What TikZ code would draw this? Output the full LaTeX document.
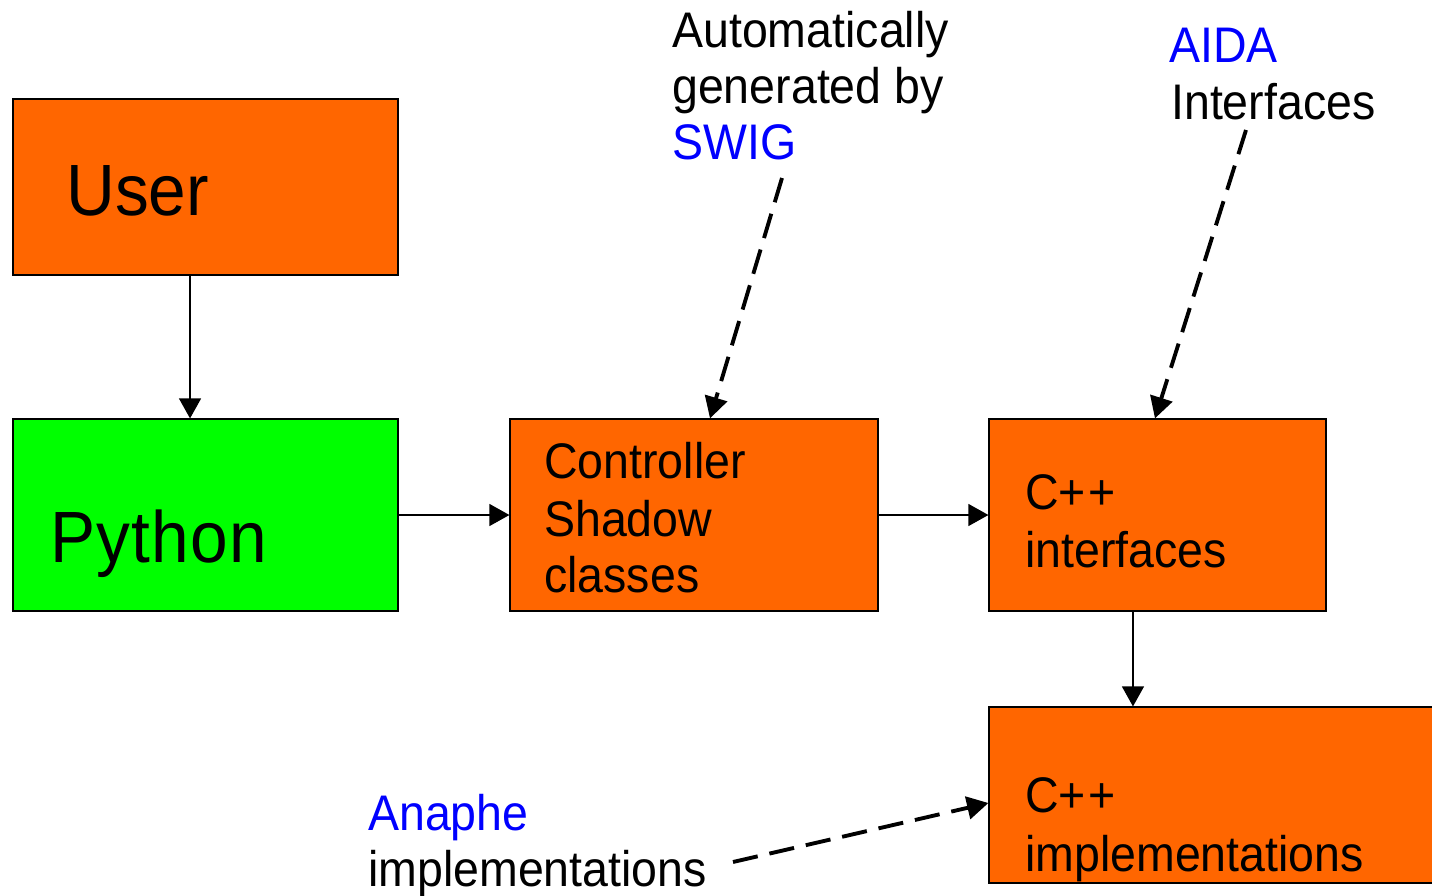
\documentclass[tikz,border=0pt]{standalone}
\usepackage{fontspec}
\setmainfont{Liberation Sans}[FakeStretch=0.93]
\usetikzlibrary{arrows.meta}
\definecolor{boxorange}{HTML}{FF6600}
\definecolor{boxgreen}{HTML}{00FF00}
\definecolor{linkblue}{HTML}{0000FF}
\tikzset{
  box/.style={draw=black, line width=0.9pt, inner sep=0pt, rectangle},
  txt/.style={anchor=base west, inner sep=0pt, font=\fontsize{37.5}{43}\selectfont},
  bigtxt/.style={anchor=base west, inner sep=0pt, font=\fontsize{54.5}{60}\selectfont},
  arr/.style={line width=0.9pt, -{Triangle[length=15pt,width=16.5pt]}},
  darr/.style={line width=2.9pt, dash pattern=on 19pt off 9pt, -{Triangle[length=16pt,width=17pt]}},
}
\begin{document}
\begin{tikzpicture}[x=0.75pt,y=-0.75pt]
\useasboundingbox (0,0) rectangle (1432,896);
\begin{scope}
\clip (0,0) rectangle (1432,896);
% boxes
\node[box, fill=boxorange, minimum width=288.75pt, minimum height=132pt] (user) at (205.5,187) {};
\node[box, fill=boxgreen, minimum width=288.75pt, minimum height=144pt] (python) at (205.5,515) {};
\node[box, fill=boxorange, minimum width=276pt, minimum height=144pt] (ctrl) at (694,515) {};
\node[box, fill=boxorange, minimum width=252.75pt, minimum height=144pt] (cint) at (1157.5,515) {};
\node[box, fill=boxorange, minimum width=345pt, minimum height=132pt] (cimpl) at (1219,795) {};
\end{scope}
% box texts
\node[bigtxt] (tuser) at (66,215) {User};
\node[bigtxt] (tpython) at (50,562) {P\kern1pt y\kern1pt t\kern1pt h\kern1pt o\kern1pt n};
\node[txt] (tctrla) at (544,478) {Controller};
\node[txt] (tctrlb) at (544,536) {Shadow};
\node[txt] (tctrlc) at (544,592) {classes};
\node[txt] (tcinta) at (1025,509) {C+\kern2pt+};
\node[txt] (tcintb) at (1025,567) {interfaces};
\node[txt] (timpla) at (1025,812) {C+\kern2pt+};
\node[txt] (timplb) at (1025,871) {implementations};
% annotations
\node[txt] (swiga) at (672,47) {Automatically};
\node[txt] (swigb) at (672,103) {generated by};
\node[txt, text=linkblue] (swigc) at (672,159) {SWIG};
\node[txt, text=linkblue] (aidaa) at (1169,62) {AIDA};
\node[txt] (aidab) at (1171,119) {Interfaces};
\node[txt, text=linkblue] (anaa) at (368,830) {Anaphe};
\node[txt] (anab) at (368,886) {implementations};
% connector endpoints
\coordinate (swigend) at (782,178);
\coordinate (aidaend) at (1246,130);
\coordinate (anaend) at (733,862);
% solid arrows
\draw[arr] ([xshift=-11.6pt]user.south) -- ([xshift=-11.6pt]python.north);
\draw[arr] (python.east) -- (ctrl.west);
\draw[arr] (ctrl.east) -- (cint.west);
\draw[arr] ([xshift=-18.4pt]cint.south) -- ([xshift=-18.4pt]cint.south |- cimpl.north);
% dashed arrows
\draw[darr] (swigend) -- ([xshift=12pt]ctrl.north);
\draw[darr] (aidaend) -- ([xshift=-1.9pt]cint.north);
\draw[darr] (anaend) -- ([yshift=-6pt]cimpl.west);
\end{tikzpicture}
\end{document}
